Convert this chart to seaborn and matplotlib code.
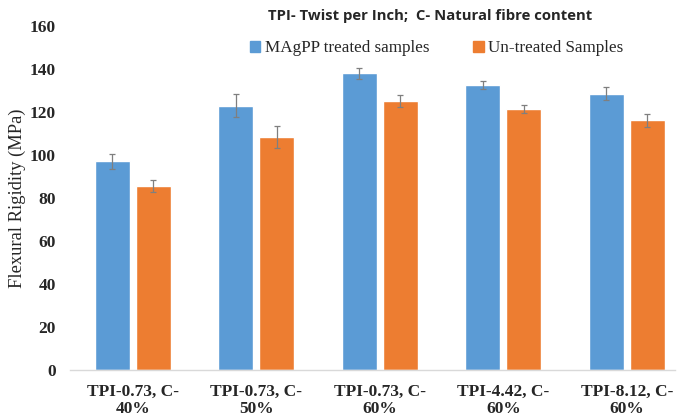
import matplotlib
matplotlib.use("Agg")
import matplotlib.pyplot as plt
import seaborn as sns
import pandas as pd
import numpy as np

categories = ["TPI-0.73, C-\n40%", "TPI-0.73, C-\n50%", "TPI-0.73, C-\n60%",
              "TPI-4.42, C-\n60%", "TPI-8.12, C-\n60%"]
series_names = ["MAgPP treated samples", "Un-treated Samples"]
treated = [97, 123, 138, 132.6, 128.5]
treated_err = [3.5, 5.5, 2.5, 1.8, 3.0]
untreated = [85.6, 108.3, 125.2, 121.3, 116.2]
untreated_err = [3.0, 5.0, 2.8, 1.8, 3.0]
y_ticks = [0, 20, 40, 60, 80, 100, 120, 140, 160]

colors = ["#5B9BD5", "#ED7D31"]

df = pd.DataFrame({
    "Condition": categories * 2,
    "Rigidity": treated + untreated,
    "Group": [series_names[0]] * len(categories) + [series_names[1]] * len(categories),
})

sns.set_style("white")
fig = plt.figure(figsize=(6.79, 4.17), dpi=100)
ax = fig.add_axes([0.103, 0.1127, 0.891, 0.8249])

sns.barplot(data=df, x="Condition", y="Rigidity", hue="Group", order=categories,
            hue_order=series_names, palette=colors, errorbar=None,
            width=0.665, gap=0.15, saturation=1, ax=ax, legend=False)

# error bars on top of each bar
for container, errs in zip(ax.containers, [treated_err, untreated_err]):
    xs = [p.get_x() + p.get_width() / 2 for p in container.patches]
    hs = [p.get_height() for p in container.patches]
    ax.errorbar(xs, hs, yerr=errs, fmt="none", ecolor="#7f7f7f",
                elinewidth=0.9, capsize=2.5, capthick=0.9, zorder=3)

ax.set_ylim(0, 160)
ax.set_xlim(-0.51, 4.39)
ax.set_yticks(y_ticks)
ax.set_yticklabels([str(t) for t in y_ticks], fontfamily="Liberation Serif",
                   fontweight="bold", fontsize=12.5)
ax.set_xticks(range(len(categories)))
ax.set_xticklabels(categories, fontfamily="Liberation Serif", fontweight="bold",
                   fontsize=12.5, linespacing=1.1)
ax.tick_params(axis="both", length=0)
ax.tick_params(axis="y", pad=10)
ax.tick_params(axis="x", pad=10)

for side in ["left", "right", "top"]:
    ax.spines[side].set_visible(False)
ax.spines["bottom"].set_color("#d9d9d9")
ax.spines["bottom"].set_linewidth(1)

ax.set_xlabel("")
ax.set_ylabel("Flexural Rigidity (MPa)", fontfamily="Liberation Serif",
              fontsize=13.3, labelpad=3)

fig.text(0.633, 0.962, "TPI- Twist per Inch;  C- Natural fibre content",
         ha="center", va="center", fontfamily="Open Sans", fontweight="bold",
         fontsize=10.7)

handles = [plt.Rectangle((0, 0), 1, 1, color=c) for c in colors]
fig.legend(handles, series_names, loc="center", bbox_to_anchor=(0.643, 0.884),
           ncol=2, frameon=False, handlelength=0.6, handleheight=0.6,
           handletextpad=0.25, columnspacing=2.6,
           prop={"family": "Liberation Serif", "size": 12.3})

fig.savefig("out.png", dpi=100)
